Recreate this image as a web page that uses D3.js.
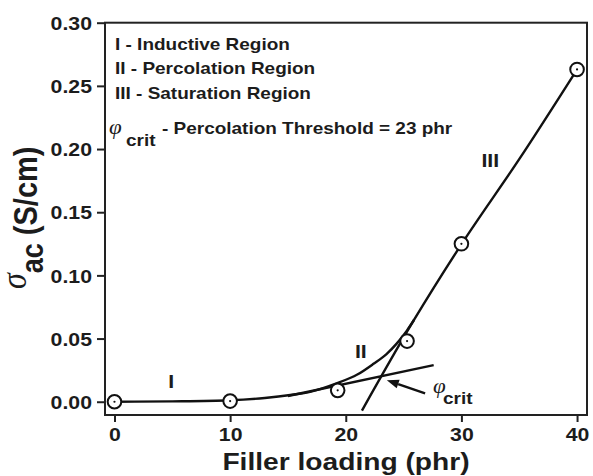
<!DOCTYPE html>
<html>
<head>
<meta charset="utf-8">
<script src="https://cdn.jsdelivr.net/npm/d3@7"></script>
<style>
body { margin: 0; background: #fff; }
text { font-family: "Liberation Sans", Arial, sans-serif; font-weight: bold; fill: #1c1c1c; }
</style>
</head>
<body>
<svg width="593" height="476"></svg>
<script>
// measured points
var loading = [0, 10, 19.3, 25.3, 30, 40];
var sigmaAC = [0, 0.0005, 0.009, 0.048, 0.125, 0.263];

// region I/II fit curve
var fitX = [0, 5, 10, 13, 15.2, 17, 19.2, 21, 22.4, 23.5, 24.4, 25.3, 25.9];
var fitY = [0, 0.0003, 0.0012, 0.003, 0.0053, 0.008, 0.0145, 0.0215, 0.03, 0.0375, 0.046, 0.0565, 0.0647];

// region III line
var satX = [21.4, 25.9, 30, 35, 40];
var satY = [-0.007, 0.0647, 0.1246, 0.192, 0.263];

// tangent at the lower part
var tanX = [15, 27.6];
var tanY = [0.0045, 0.029];

// arrow pointing at phi_crit (tail, tip)
var arrowX = [26.86, 23.55];
var arrowY = [0.0066, 0.0171];

var xTicks = [0, 10, 20, 30, 40];
var yTicks = [0, 0.05, 0.10, 0.15, 0.20, 0.25, 0.30];
var legendLines = ["I - Inductive Region", "II - Percolation Region", "III - Saturation Region"];
var thresholdText = "- Percolation Threshold = 23 phr";

var S = 1.15; // text looks horizontally stretched in the original

var svg = d3.select("svg");
var plotL = 105, plotR = 587, plotT = 22.7, plotB = 415;

var x = d3.scaleLinear().domain([-0.82, 40.86]).range([plotL, plotR]);
var y = d3.scaleLinear().domain([-0.0105, 0.30]).range([plotB, plotT]);

function label(px, py, str, size, anchor) {
    return svg.append("text")
        .attr("transform", "translate(" + px + "," + py + ") scale(" + S + ",1)")
        .attr("text-anchor", anchor || "start")
        .style("font-size", size + "px")
        .text(str);
}

// axes
var yAxis = svg.append("g")
    .attr("transform", "translate(" + plotL + ",0)")
    .call(d3.axisLeft(y).tickValues(yTicks).tickFormat(d3.format(".2f")).tickSize(8).tickSizeOuter(0));
yAxis.select(".domain").remove();
yAxis.selectAll("line").attr("stroke", "#222").attr("stroke-width", 2);
yAxis.selectAll("text")
    .attr("x", -13 / S)
    .attr("dy", "0.36em")
    .attr("transform", "scale(" + S + ",1)")
    .style("font-size", "18.5px")
    .attr("fill", "#1c1c1c");

var xAxis = svg.append("g")
    .attr("transform", "translate(0," + plotB + ")")
    .call(d3.axisBottom(x).tickValues(xTicks).tickFormat(d3.format("d")).tickSize(7).tickSizeOuter(0));
xAxis.select(".domain").remove();
xAxis.selectAll("line").attr("stroke", "#222").attr("stroke-width", 2);
xAxis.selectAll("text")
    .attr("y", 26)
    .attr("dy", 0)
    .attr("transform", "scale(" + S + ",1)")
    .style("font-size", "18.5px")
    .attr("fill", "#1c1c1c");

// frame
svg.append("rect")
    .attr("x", plotL).attr("y", plotT)
    .attr("width", plotR - plotL).attr("height", plotB - plotT)
    .attr("fill", "none").attr("stroke", "#222").attr("stroke-width", 2);

// curves
var line = d3.line()
    .x(function(d) { return x(d[0]); })
    .y(function(d) { return y(d[1]); })
    .curve(d3.curveMonotoneX);

svg.append("path")
    .datum(d3.zip(fitX, fitY))
    .attr("d", line)
    .attr("fill", "none").attr("stroke", "#111").attr("stroke-width", 2.4);

svg.append("path")
    .datum(d3.zip(satX, satY))
    .attr("d", line)
    .attr("fill", "none").attr("stroke", "#111").attr("stroke-width", 2.4);

svg.append("path")
    .datum(d3.zip(tanX, tanY))
    .attr("d", d3.line().x(function(d) { return x(d[0]); }).y(function(d) { return y(d[1]); }))
    .attr("fill", "none").attr("stroke", "#111").attr("stroke-width", 2.4);

// arrow
var ax0 = x(arrowX[0]), ay0 = y(arrowY[0]), ax1 = x(arrowX[1]), ay1 = y(arrowY[1]);
var ang = Math.atan2(ay1 - ay0, ax1 - ax0);
var headLen = 12, headW = 4.5;
var bx = ax1 - headLen * Math.cos(ang), by = ay1 - headLen * Math.sin(ang);
svg.append("line")
    .attr("x1", ax0).attr("y1", ay0).attr("x2", bx).attr("y2", by)
    .attr("stroke", "#111").attr("stroke-width", 2.4);
svg.append("path")
    .attr("d", "M" + ax1 + "," + ay1 +
        "L" + (bx + headW * Math.sin(ang)) + "," + (by - headW * Math.cos(ang)) +
        "L" + (bx - headW * Math.sin(ang)) + "," + (by + headW * Math.cos(ang)) + "Z")
    .attr("fill", "#111");

// markers
var pts = svg.append("g").selectAll("g")
    .data(d3.zip(loading, sigmaAC))
    .enter().append("g")
    .attr("transform", function(d) { return "translate(" + x(d[0]) + "," + y(d[1]) + ")"; });
pts.append("circle").attr("r", 6.8).attr("fill", "#fff").attr("stroke", "#111").attr("stroke-width", 2);
pts.append("circle").attr("r", 1.1).attr("fill", "#111");

// region labels
label(x(4.9), y(0.0108), "I", 18.5, "middle");
label(x(21.3), y(0.0346), "II", 18.5, "middle");
label(x(32.5), y(0.186), "III", 18.5, "middle");

// phi_crit next to the arrow
label(433, 393, "φ", 20).style("font-family", "'Liberation Serif', serif").style("font-style", "italic").style("font-weight", "normal");
label(443, 404, "crit", 16.5);

// legend text
legendLines.forEach(function(t, i) {
    label(115, 50 + i * 24.3, t, 16.5);
});
label(109, 134, "φ", 20).style("font-family", "'Liberation Serif', serif").style("font-style", "italic").style("font-weight", "normal");
label(126, 146, "crit", 16.5);
label(162, 134, thresholdText, 16.5);

// axis titles
label(346, 470, "Filler loading (phr)", 24.5, "middle");

var yt = svg.append("text")
    .attr("transform", "translate(37,289) scale(" + S + ",1) rotate(-90)");
yt.append("tspan")
    .style("font-family", "'Liberation Serif', serif").style("font-style", "italic").style("font-weight", "normal")
    .style("font-size", "32px")
    .attr("dy", -10)
    .text("σ");
yt.append("tspan").style("font-size", "27px").attr("dy", 15).text("ac");
yt.append("tspan").style("font-size", "29px").attr("dy", -5).text(" (S/cm)");
</script>
</body>
</html>
